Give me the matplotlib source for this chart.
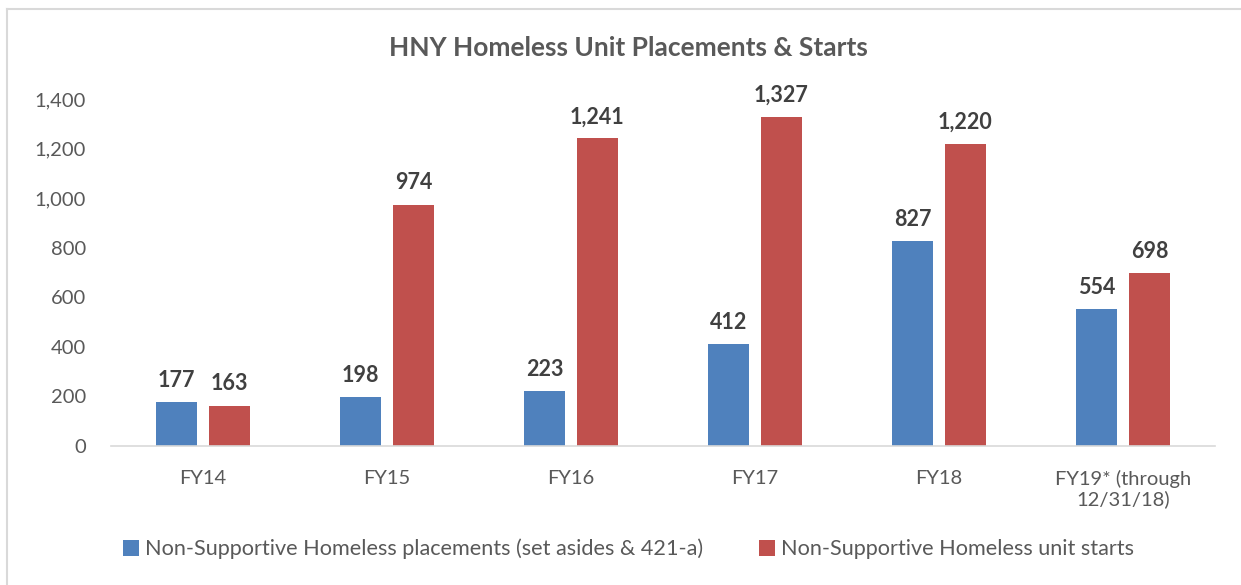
import numpy as np
import matplotlib.pyplot as plt
from matplotlib.lines import Line2D

categories = ['FY14', 'FY15', 'FY16', 'FY17', 'FY18', 'FY19* (through\n12/31/18)']
placements = [177, 198, 223, 412, 827, 554]
unit_starts = [163, 974, 1241, 1327, 1220, 698]
y_ticks = [0, 200, 400, 600, 800, 1000, 1200, 1400]

blue = '#4F81BD'
red = '#C0504D'
grey_text = '#595959'

plt.rcParams['font.family'] = ['Lato', 'DejaVu Sans']

fig = plt.figure(figsize=(12.41, 5.85), dpi=100)
ax = fig.add_axes([0.0894, 0.2376, 0.8896, 0.5932])

x = np.arange(len(categories))
w = 0.223
off = 0.144
ax.bar(x - off, placements, w, color=blue, label='Non-Supportive Homeless placements (set asides & 421-a)')
ax.bar(x + off, unit_starts, w, color=red, label='Non-Supportive Homeless unit starts')

# etichette dati
for xi, v in zip(x, placements):
    ax.text(xi - off, v + 45, f'{v:,}', ha='center', va='bottom', fontsize=15.5,
            fontweight='bold', color='#404040')
for xi, v in zip(x, unit_starts):
    ax.text(xi + off, v + 45, f'{v:,}', ha='center', va='bottom', fontsize=15.5,
            fontweight='bold', color='#404040', clip_on=False)

ax.set_xlim(-0.5, len(categories) - 0.5)
ax.set_ylim(0, 1400)
ax.set_yticks(y_ticks)
ax.set_yticklabels([f'{t:,}' for t in y_ticks])
ax.set_xticks(x)
ax.set_xticklabels(categories, linespacing=1.15)
ax.tick_params(axis='both', length=0, labelsize=14.5, colors=grey_text)
ax.tick_params(axis='x', pad=17)
ax.tick_params(axis='y', pad=18)
for s in ['top', 'right', 'left']:
    ax.spines[s].set_visible(False)
ax.spines['bottom'].set_color('#D9D9D9')
ax.spines['bottom'].set_linewidth(1.2)

fig.text(0.506, 0.918, 'HNY Homeless Unit Placements & Starts', ha='center', va='center',
         fontsize=19, fontweight='bold', color=grey_text)

ax.legend(loc='center left', bbox_to_anchor=(0.011, -0.297), ncol=2, frameon=False,
          fontsize=15.6, labelcolor=grey_text, handlelength=0.75, handleheight=0.75,
          handletextpad=0.25, columnspacing=2.6, borderaxespad=0, borderpad=0)

# bordo del grafico
fig.add_artist(Line2D([7 / 1241, 1], [1 - 9 / 585, 1 - 9 / 585], color='#D9D9D9', lw=1.5))
fig.add_artist(Line2D([7 / 1241, 7 / 1241], [0, 1 - 9 / 585], color='#D9D9D9', lw=1.5))

fig.savefig('out.png', dpi=100)
